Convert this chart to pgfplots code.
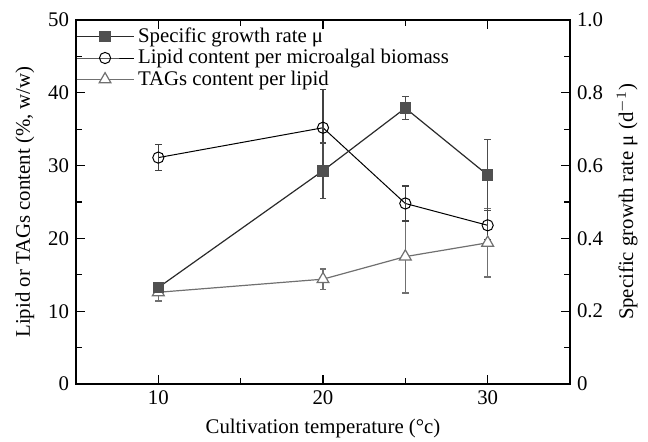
\documentclass[border=0pt]{standalone}
\usepackage{fontspec}
\setmainfont{Liberation Serif}
\usepackage{pgfplots}
\pgfplotsset{compat=1.18}
\definecolor{sqfill}{HTML}{505050}
\definecolor{sqline}{HTML}{2A2A2A}
\definecolor{triline}{HTML}{707070}
\begin{document}
\begin{tikzpicture}[font=\fontsize{10.4}{12.5}\selectfont]
\path[use as bounding box] (-38pt,-28.5pt) rectangle (286pt,192pt);
\pgfplotsset{
  every axis/.append style={
    scale only axis, width=247pt, height=182pt,
    xmin=5, xmax=35,
    tick align=inside,
    axis line style={line width=0.8pt},
    every tick/.style={line width=0.6pt, black},
    /pgf/number format/assume math mode=true,
    legend image code/.code={\draw[mark repeat=2,mark phase=2] plot coordinates {(0cm,0cm)(0.5cm,0cm)(1cm,0cm)};},
  },
  sq/.style={sqline, line width=0.6pt, mark=square*, mark size=2.6pt,
    mark options={fill=sqfill, draw=sqfill, solid}},
  ci/.style={black, line width=0.5pt, mark=o, mark size=2.8pt, mark options={fill=white}},
  tr/.style={triline, line width=0.6pt, mark=triangle*, mark size=3.4pt,
    mark options={fill=white, draw=triline}},
}
\begin{axis}[
  ymin=0, ymax=50, ytick={0,10,20,30,40,50}, minor y tick num=1,
  xtick={10,20,30}, minor x tick num=1,
  xtick pos=both, ytick pos=left,
  xlabel={Cultivation temperature (°c)},
  ylabel={Lipid or TAGs content (\%, w/w)},
]
\addplot[tr, error bars/.cd, y dir=both, y explicit,
  error bar style={triline, line width=0.6pt},
  error mark options={rotate=90, mark size=1.6pt, triline, line width=0.6pt}]
  table[x=x, y=y, y error=e] {
x y e
10 12.6 1.2
20 14.4 1.4
25 17.5 5.0
30 19.4 4.7
};
\addplot[ci, error bars/.cd, y dir=both, y explicit,
  error bar style={black!75, line width=0.6pt},
  error mark options={rotate=90, mark size=1.6pt, black!75, line width=0.6pt}]
  table[x=x, y=y, y error=e] {
x y e
10 31.1 1.8
20 35.2 5.3
25 24.8 2.4
30 21.8 2.0
};
\end{axis}
\begin{axis}[
  axis y line*=right, axis x line=none,
  ymin=0, ymax=1, ytick={0,0.2,0.4,0.6,0.8,1.0},
  yticklabels={0,0.2,0.4,0.6,0.8,1.0},
  minor y tick num=1,
  ylabel={Specific growth rate μ (d$^{-1}$)},
  legend style={draw=none, fill=none, at={(0,0.99)}, anchor=north west,
    inner sep=0pt, outer sep=0pt, row sep=-2pt, cells={anchor=west}},
]
\addplot[sq, error bars/.cd, y dir=both, y explicit,
  error bar style={black!70, line width=0.6pt},
  error mark options={rotate=90, mark size=1.6pt, black!70, line width=0.6pt}]
  table[x=x, y=y, y error=e] {
x y e
10 0.265 0.008
20 0.586 0.076
25 0.758 0.032
30 0.574 0.098
};
\addlegendentry{Specific growth rate μ}
\addlegendimage{ci}
\addlegendentry{Lipid content per microalgal biomass}
\addlegendimage{tr}
\addlegendentry{TAGs content per lipid}
\end{axis}
\end{tikzpicture}
\end{document}
